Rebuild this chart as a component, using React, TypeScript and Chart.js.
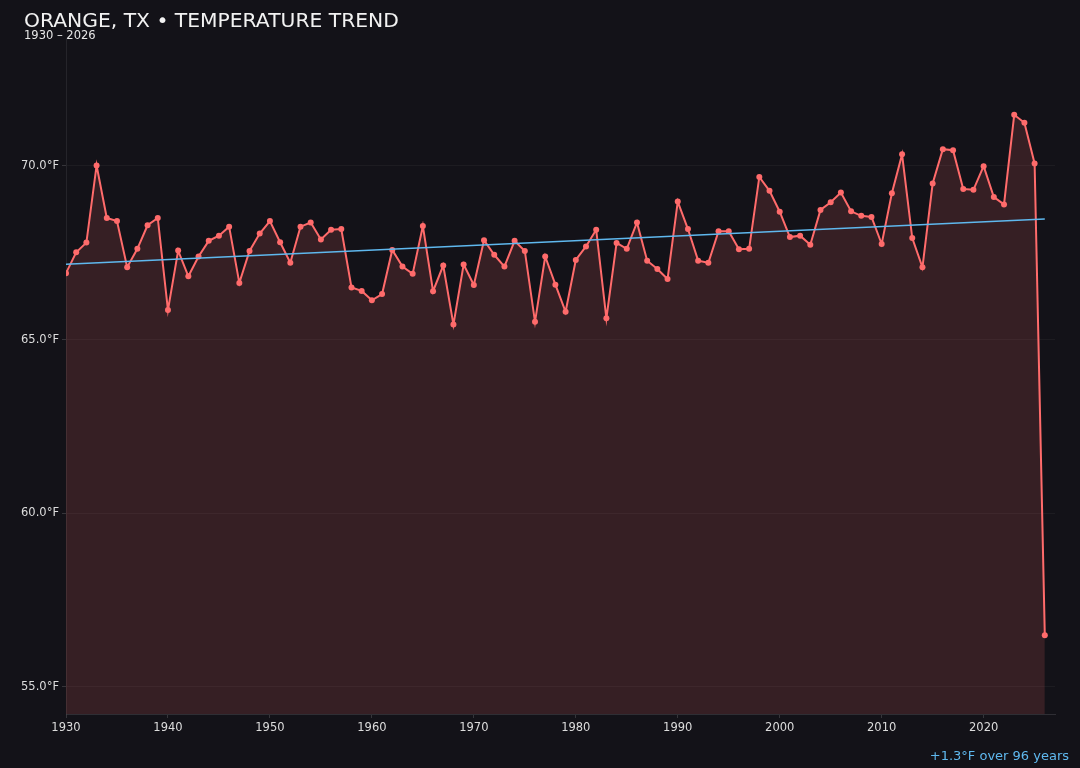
import { useEffect, useRef } from "react";
import { Chart, registerables } from "chart.js";

Chart.register(...registerables);

const years: number[] = [
  1930, 1931, 1932, 1933, 1934, 1935, 1936, 1937, 1938, 1939,
  1940, 1941, 1942, 1943, 1944, 1945, 1946, 1947, 1948, 1949,
  1950, 1951, 1952, 1953, 1954, 1955, 1956, 1957, 1958, 1959,
  1960, 1961, 1962, 1963, 1964, 1965, 1966, 1967, 1968, 1969,
  1970, 1971, 1972, 1973, 1974, 1975, 1976, 1977, 1978, 1979,
  1980, 1981, 1982, 1983, 1984, 1985, 1986, 1987, 1988, 1989,
  1990, 1991, 1992, 1993, 1994, 1995, 1996, 1997, 1998, 1999,
  2000, 2001, 2002, 2003, 2004, 2005, 2006, 2007, 2008, 2009,
  2010, 2011, 2012, 2013, 2014, 2015, 2016, 2017, 2018, 2019,
  2020, 2021, 2022, 2023, 2024, 2025, 2026,
];

// annual mean temperature, °F
const temps: number[] = [
  66.91, 67.51, 67.79, 70.01, 68.5, 68.41, 67.08, 67.61, 68.29, 68.5,
  65.85, 67.56, 66.82, 67.39, 67.84, 67.99, 68.25, 66.63, 67.55, 68.05,
  68.41, 67.8, 67.21, 68.25, 68.37, 67.88, 68.16, 68.18, 66.5, 66.4,
  66.13, 66.31, 67.58, 67.1, 66.89, 68.27, 66.39, 67.13, 65.43, 67.16,
  66.57, 67.86, 67.44, 67.1, 67.84, 67.55, 65.51, 67.39, 66.58, 65.8,
  67.29, 67.68, 68.16, 65.61, 67.78, 67.61, 68.37, 67.27, 67.03, 66.74,
  68.97, 68.18, 67.27, 67.21, 68.12, 68.12, 67.6, 67.61, 69.68, 69.28,
  68.68, 67.95, 67.99, 67.73, 68.73, 68.95, 69.23, 68.69, 68.56, 68.53,
  67.75, 69.21, 70.33, 67.92, 67.08, 69.49, 70.48, 70.45, 69.33, 69.31,
  69.99, 69.1, 68.89, 71.47, 71.24, 70.07, 56.49,
];

// linear trend endpoints (1930 and 2026)
const trendYears: number[] = [1930, 2026];
const trendTemps: number[] = [67.17, 68.47];

const xTicks: number[] = [1930, 1940, 1950, 1960, 1970, 1980, 1990, 2000, 2010, 2020];
const yTicks: number[] = [55, 60, 65, 70];

const BG = "#131218";
const FONT = "'DejaVu Sans', sans-serif";

export default function App() {
  const canvasRef = useRef<HTMLCanvasElement>(null);
  const chartRef = useRef<Chart | null>(null);

  useEffect(() => {
    document.body.style.margin = "0";
    if (!canvasRef.current) return;

    chartRef.current?.destroy();
    chartRef.current = new Chart(canvasRef.current, {
      type: "line",
      data: {
        datasets: [
          {
            label: "Trend",
            data: trendYears.map((x, i) => ({ x, y: trendTemps[i] })),
            borderColor: "#5fb8ee",
            borderWidth: 1.5,
            pointRadius: 0,
            fill: false,
            order: 0,
          },
          {
            label: "Temperature",
            data: years.map((x, i) => ({ x, y: temps[i] })),
            borderColor: "#ff6b6b",
            backgroundColor: "rgba(255,107,107,0.15)",
            pointBackgroundColor: "#ff6b6b",
            pointBorderWidth: 0,
            pointRadius: 3,
            borderWidth: 2,
            fill: "start",
            tension: 0,
            order: 1,
          },
        ],
      },
      options: {
        animation: false,
        responsive: false,
        maintainAspectRatio: false,
        layout: { padding: { top: 38, right: 25, left: 0, bottom: 0 } },
        plugins: {
          legend: { display: false },
          tooltip: { enabled: false },
        },
        scales: {
          x: {
            type: "linear",
            min: 1930,
            max: 2027,
            afterBuildTicks: (axis) => {
              axis.ticks = xTicks.map((value) => ({ value }));
            },
            afterFit: (axis) => {
              axis.height = 54;
            },
            ticks: {
              color: "#dcdcdc",
              font: { family: FONT, size: 11.5 },
              padding: 3,
              maxRotation: 0,
              callback: (v) => String(v),
            },
            grid: {
              drawOnChartArea: false,
              tickLength: 4,
              tickColor: "rgba(255,255,255,0.15)",
            },
            border: { color: "rgba(255,255,255,0.12)" },
          },
          y: {
            min: 54.22,
            max: 73.68,
            afterBuildTicks: (axis) => {
              axis.ticks = yTicks.map((value) => ({ value }));
            },
            afterFit: (axis) => {
              axis.width = 66;
            },
            ticks: {
              color: "#dcdcdc",
              font: { family: FONT, size: 11.5 },
              padding: 3,
              callback: (v) => Number(v).toFixed(1) + "°F",
            },
            grid: {
              color: "rgba(255,255,255,0.045)",
              tickLength: 4,
              tickColor: "rgba(255,255,255,0.15)",
            },
            border: { color: "rgba(255,255,255,0.08)" },
          },
        },
      },
    });

    return () => {
      chartRef.current?.destroy();
      chartRef.current = null;
    };
  }, []);

  return (
    <div style={{ position: "relative", width: 1080, height: 768, background: BG, fontFamily: FONT, overflow: "hidden" }}>
      <canvas ref={canvasRef} width={1080} height={768} style={{ position: "absolute", left: 0, top: 0 }} />
      <div style={{ position: "absolute", left: 24, top: 10.3, fontSize: 20.3, lineHeight: "20.3px", color: "#f2f2f2", whiteSpace: "nowrap" }}>
        ORANGE, TX • TEMPERATURE TREND
      </div>
      <div style={{ position: "absolute", left: 24, top: 29.8, fontSize: 11.5, lineHeight: "11.5px", color: "#e6e6e6", whiteSpace: "nowrap" }}>
        1930 – 2026
      </div>
      <div style={{ position: "absolute", right: 11, top: 749, fontSize: 13, lineHeight: "13px", color: "#5fb8ee", whiteSpace: "nowrap" }}>
        +1.3°F over 96 years
      </div>
    </div>
  );
}
